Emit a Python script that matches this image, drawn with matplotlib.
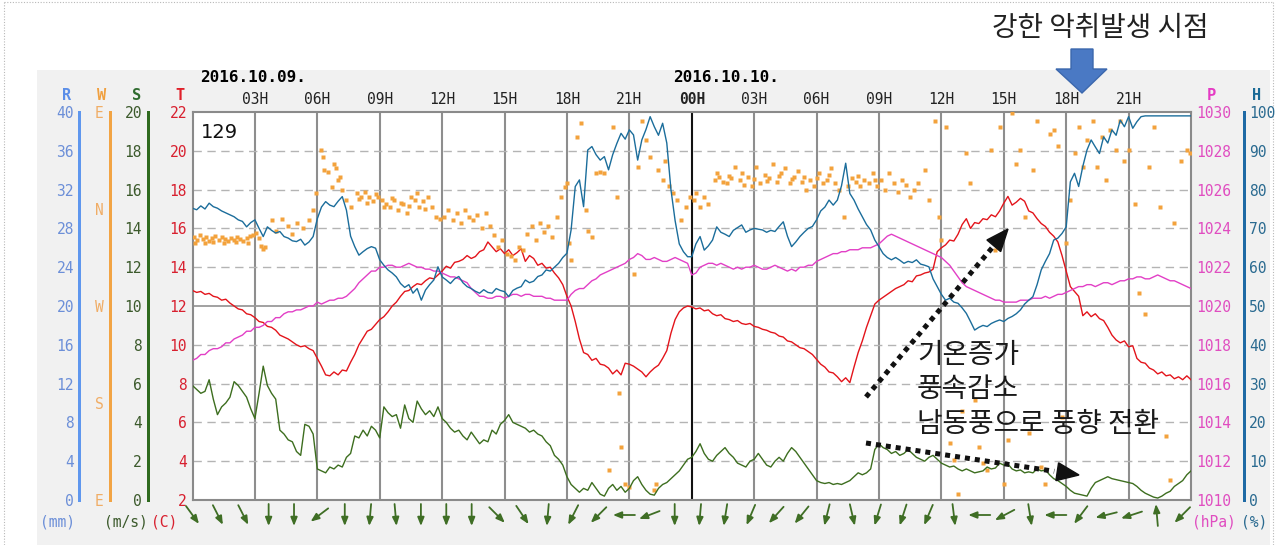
import numpy as np
import matplotlib
matplotlib.use('Agg')
import matplotlib.pyplot as plt
from matplotlib.patches import Rectangle, Polygon

plt.rcParams['font.family'] = ['DejaVu Sans Mono']

# station 129, 2016-10-09 00H .. 2016-10-11 00H, one sample every 12 minutes
# (each row below = 2 hours)
SAMPLE_HR = 0.2

temp_c = [
    12.8, 12.7, 12.75, 12.6, 12.65, 12.5, 12.45, 12.3, 12.35, 12.15,
    12.0, 11.85, 11.8, 11.6, 11.55, 11.4, 11.2, 11.15, 10.95, 10.9,
    10.75, 10.5, 10.4, 10.3, 10.15, 10.0, 9.9, 9.95, 9.8, 9.7,
    9.3, 8.9, 8.45, 8.4, 8.6, 8.45, 8.7, 8.65, 9.1, 9.5,
    10.0, 10.35, 10.7, 10.8, 11.05, 11.3, 11.45, 11.7, 12.0, 12.2,
    12.5, 12.75, 12.8, 13.0, 13.15, 13.1, 13.3, 13.45, 13.4, 13.6,
    13.8, 14.05, 13.95, 14.25, 14.3, 14.4, 14.6, 14.45, 14.55, 14.8,
    14.9, 15.3, 15.05, 14.8, 14.95, 14.7, 14.9, 14.6, 14.75, 14.95,
    14.3, 14.6, 14.45, 14.1, 14.2, 13.95, 14.0, 13.7, 13.45, 13.1,
    12.5, 12.0, 11.2, 10.3, 9.6, 9.5, 9.2, 9.3, 9.0, 8.95,
    8.8, 8.5, 8.7, 8.45, 9.05, 9.0, 8.9, 8.75, 8.6, 8.35,
    8.6, 8.8, 8.95, 9.3, 9.7, 10.6, 11.3, 11.7, 11.9, 12.0,
    11.95, 11.85, 11.9, 11.75, 11.8, 11.6, 11.5, 11.55, 11.35, 11.3,
    11.2, 11.25, 11.1, 11.05, 11.1, 10.95, 10.9, 10.8, 10.75, 10.65,
    10.6, 10.45, 10.4, 10.2, 10.15, 10.0, 9.85, 9.8, 9.65, 9.5,
    9.25, 9.0, 8.85, 8.6, 8.55, 8.35, 8.1, 8.3, 8.05, 8.85,
    9.6, 10.2, 10.9, 11.5, 12.1, 12.3, 12.45, 12.6, 12.75, 12.9,
    13.0, 13.1, 13.3, 13.25, 13.55, 13.6, 13.7, 13.75, 13.9, 14.8,
    15.0, 15.15, 15.4, 15.35, 15.7, 16.2, 16.5, 16.0, 16.3, 16.25,
    16.5, 16.45, 16.7, 16.6, 16.9, 17.3, 17.65, 17.2, 17.35, 17.55,
    17.4, 16.9, 16.8, 16.5, 16.25, 16.1, 15.8, 15.6, 15.3, 14.6,
    13.8, 13.0, 12.75, 12.5, 11.5, 11.7, 11.45, 11.6, 11.35, 11.25,
    10.9, 10.5, 10.25, 10.1, 10.2, 9.9, 9.95, 9.3, 9.1, 9.05,
    8.8, 8.7, 8.5, 8.6, 8.4, 8.45, 8.25, 8.35, 8.2, 8.4,
    8.2]

wspd_ms = [
    5.9, 5.7, 5.5, 5.6, 6.2, 5.2, 4.4, 4.8, 5.0, 5.3,
    6.1, 5.9, 5.6, 5.3, 4.7, 4.2, 5.5, 6.9, 5.9, 5.5,
    5.2, 3.6, 3.4, 3.1, 3.0, 2.5, 2.3, 3.9, 3.8, 3.4,
    1.6, 1.5, 1.4, 1.7, 1.6, 1.8, 1.7, 2.2, 2.4, 3.3,
    3.2, 3.6, 3.3, 3.8, 3.6, 3.2, 4.8, 4.5, 4.3, 4.4,
    3.7, 4.9, 4.2, 4.0, 5.1, 4.7, 4.4, 4.6, 4.3, 4.8,
    4.2, 4.0, 3.7, 3.5, 3.6, 3.3, 3.1, 3.5, 3.2, 2.9,
    3.1, 3.0, 3.6, 3.4, 3.9, 4.1, 4.4, 4.0, 3.9, 3.8,
    3.7, 3.5, 3.6, 3.4, 3.3, 3.0, 2.8, 2.3, 2.1, 1.8,
    1.2, 0.8, 0.6, 0.4, 0.6, 0.5, 0.9, 0.6, 0.3, 0.2,
    0.6, 0.8, 0.5, 0.7, 0.4, 0.6, 1.0, 1.2, 0.8, 0.5,
    0.3, 0.25, 0.6, 0.8, 0.9, 1.1, 1.3, 1.5, 1.8, 2.1,
    2.2, 2.5, 2.9, 2.4, 2.1, 2.0, 2.3, 2.5, 2.7, 2.4,
    2.2, 1.9, 1.8, 1.7, 2.0, 2.1, 2.4, 2.1, 1.8, 1.7,
    2.0, 2.2, 2.0, 2.4, 2.7, 2.5, 2.2, 1.9, 1.6, 1.3,
    1.0, 0.9, 0.85, 0.9, 0.8, 0.85, 0.8, 0.9, 1.0, 1.2,
    1.4, 1.3, 1.4, 1.6, 2.6, 2.9, 2.7, 2.6, 2.4, 2.5,
    2.3, 2.4, 2.6, 2.4, 2.2, 2.1, 2.0, 2.2, 2.3, 2.1,
    1.9, 1.8, 1.7, 1.75, 1.6, 1.5, 1.6, 1.5, 1.4, 1.45,
    1.5, 1.7, 1.6, 1.65, 1.9, 1.8, 1.85, 1.6, 1.5, 1.55,
    1.4, 1.45, 1.4, 1.6, 1.5, 1.55, 1.3, 1.1, 1.0, 0.85,
    0.7, 0.5, 0.35, 0.3, 0.25, 0.2, 0.6, 0.9, 1.0, 1.1,
    1.2, 1.1, 1.05, 1.0, 0.95, 0.9, 0.85, 0.7, 0.5, 0.35,
    0.25, 0.15, 0.1, 0.2, 0.35, 0.45, 0.7, 0.85, 1.0, 1.3,
    1.5]

pres_hpa = [
    1017.2, 1017.3, 1017.5, 1017.5, 1017.7, 1017.8, 1017.8, 1017.9, 1018.1, 1018.1,
    1018.3, 1018.4, 1018.5, 1018.7, 1018.7, 1018.9, 1018.9, 1019.0, 1019.2, 1019.2,
    1019.4, 1019.4, 1019.6, 1019.7, 1019.7, 1019.8, 1019.8, 1019.9, 1020.0, 1020.0,
    1020.2, 1020.1, 1020.2, 1020.3, 1020.3, 1020.4, 1020.4, 1020.5, 1020.7, 1020.9,
    1021.2, 1021.4, 1021.6, 1021.8, 1021.8, 1022.0, 1022.0, 1022.1, 1022.1, 1022.0,
    1022.0, 1022.1, 1022.2, 1022.1, 1022.0, 1022.0, 1021.9, 1021.9, 1021.8, 1021.8,
    1021.7, 1021.6, 1021.5, 1021.5, 1021.4, 1021.3, 1021.2, 1020.9, 1020.7, 1020.5,
    1020.5, 1020.4, 1020.4, 1020.5, 1020.5, 1020.4, 1020.5, 1020.6, 1020.6, 1020.5,
    1020.6, 1020.6, 1020.5, 1020.5, 1020.5, 1020.4, 1020.4, 1020.3, 1020.3, 1020.3,
    1020.3, 1020.6, 1020.8, 1020.9, 1020.9, 1021.1, 1021.3, 1021.4, 1021.6, 1021.7,
    1021.8, 1021.9, 1022.0, 1022.1, 1022.2, 1022.4, 1022.5, 1022.7, 1022.6, 1022.4,
    1022.4, 1022.5, 1022.4, 1022.3, 1022.3, 1022.4, 1022.5, 1022.4, 1022.3, 1022.2,
    1021.6, 1021.7, 1022.0, 1022.1, 1022.2, 1022.2, 1022.1, 1022.2, 1022.1, 1022.0,
    1021.9, 1022.0, 1021.9, 1022.0, 1022.0, 1022.1, 1022.0, 1021.9, 1021.9, 1022.0,
    1022.1, 1022.0, 1021.9, 1021.8, 1021.9, 1021.8, 1022.0, 1022.0, 1022.1, 1022.1,
    1022.3, 1022.4, 1022.5, 1022.6, 1022.7, 1022.7, 1022.8, 1022.8, 1022.9, 1022.9,
    1022.9, 1023.0, 1023.0, 1023.0, 1023.1, 1023.2, 1023.4, 1023.6, 1023.7, 1023.6,
    1023.5, 1023.4, 1023.3, 1023.2, 1023.1, 1023.0, 1022.9, 1022.8, 1022.7, 1022.6,
    1022.5, 1022.3, 1022.1, 1021.8, 1021.5, 1021.2, 1021.0, 1020.9, 1020.8, 1020.7,
    1020.6, 1020.5, 1020.4, 1020.3, 1020.3, 1020.2, 1020.2, 1020.2, 1020.2, 1020.3,
    1020.3, 1020.3, 1020.4, 1020.4, 1020.4, 1020.5, 1020.4, 1020.5, 1020.6, 1020.6,
    1020.7, 1020.8, 1020.9, 1021.0, 1021.0, 1021.1, 1021.1, 1021.0, 1021.1, 1021.2,
    1021.2, 1021.1, 1021.2, 1021.3, 1021.3, 1021.4, 1021.4, 1021.5, 1021.5, 1021.4,
    1021.4, 1021.5, 1021.6, 1021.5, 1021.4, 1021.3, 1021.3, 1021.2, 1021.1, 1021.0,
    1020.9]

humi_pct = [
    75.2, 74.8, 75.8, 75.0, 76.5, 75.6, 75.2, 74.5, 74.0, 73.5,
    73.0, 72.2, 71.8, 70.4, 71.5, 72.2, 70.0, 67.9, 70.4, 69.5,
    68.8, 69.2, 67.9, 67.5, 66.8, 66.6, 67.2, 65.7, 66.5, 67.9,
    72.5, 75.5, 76.9, 76.0, 75.6, 77.0, 78.2, 74.7, 68.0, 65.3,
    63.1, 64.0, 64.8, 65.3, 64.9, 61.9, 60.5, 59.3, 58.5, 57.5,
    55.8, 54.8, 55.5, 53.3, 54.5, 51.5, 54.1, 55.5, 56.7, 60.1,
    57.5, 56.7, 55.8, 57.0, 57.6, 56.0, 55.0, 54.5, 53.8, 53.3,
    54.2, 53.5, 53.3, 54.5, 54.0, 53.7, 52.4, 54.0, 54.6, 55.0,
    56.7, 56.0, 56.4, 57.6, 58.0, 59.3, 59.0, 60.0, 61.0, 62.5,
    63.6, 69.6, 80.8, 82.5, 75.6, 90.2, 91.1, 89.0, 87.6, 88.5,
    85.1, 89.0, 91.9, 94.5, 93.0, 95.4, 94.1, 87.6, 92.8, 95.5,
    98.8, 96.2, 94.0, 97.1, 92.0, 80.0, 72.0, 66.0, 64.0, 62.7,
    62.7, 66.0, 67.9, 64.4, 65.5, 67.0, 70.4, 69.0, 68.5, 67.9,
    69.5, 70.2, 70.9, 69.0, 69.6, 70.0, 69.8, 69.6, 69.0, 69.5,
    69.2, 70.5, 71.7, 68.0, 65.3, 66.5, 67.9, 69.0, 70.0, 70.5,
    72.2, 74.5, 75.5, 77.3, 76.0, 77.3, 81.0, 86.8, 79.0, 77.3,
    75.0, 73.0, 71.0, 69.6, 67.0, 65.3, 63.5, 62.5, 61.9, 62.5,
    61.8, 61.0, 61.5, 61.2, 61.9, 60.8, 60.5, 60.1, 57.0, 55.0,
    53.0, 51.5, 52.0, 51.0, 50.7, 49.5, 48.1, 46.0, 43.8, 44.5,
    45.0, 44.7, 45.5, 46.0, 46.4, 46.0, 46.8, 47.3, 48.0, 49.0,
    50.5, 51.5, 52.4, 55.5, 59.3, 61.5, 63.5, 67.0, 67.5, 68.7,
    70.4, 82.0, 84.2, 80.8, 86.0, 90.2, 92.8, 91.0, 89.3, 93.6,
    92.0, 95.4, 94.0, 97.9, 96.2, 98.8, 95.8, 97.5, 98.8, 99.0,
    99.0, 99.0, 99.0, 99.0, 99.0, 99.0, 99.0, 99.0, 99.0, 99.0,
    99.0]

# wind direction samples: (hour, compass degrees the wind blows from)
wdir = [(0.05, 334), (0.1, 328), (0.2, 331), (0.35, 336), (0.5, 332), (0.6, 328), (0.65, 334),
        (0.8, 330), (0.95, 333), (1.0, 329), (1.1, 335), (1.25, 331), (1.4, 334), (1.5, 328),
        (1.55, 332), (1.7, 330), (1.85, 333), (2.0, 331), (2.1, 329), (2.15, 334), (2.3, 332),
        (2.45, 330), (2.6, 333), (2.65, 328), (2.75, 335), (2.9, 336), (3.05, 338), (3.2, 333),
        (3.3, 326), (3.4, 323), (3.5, 325),
        (3.8, 350), (4.0, 340), (4.3, 351), (4.6, 344), (4.8, 337), (5.0, 347), (5.3, 342), (5.6, 350),
        (5.8, 359), (5.95, 15), (6.2, 55), (6.25, 48), (6.3, 36), (6.5, 34), (6.7, 20), (6.8, 42),
        (6.9, 38), (7.0, 27), (7.1, 30), (7.2, 18), (7.4, 8), (7.6, 2),
        (7.9, 15), (8.0, 9), (8.1, 11), (8.3, 16), (8.4, 6), (8.5, 11), (8.7, 7), (8.8, 14), (8.9, 11),
        (9.1, 8), (9.2, 2), (9.3, 5), (9.5, 2), (9.6, 10), (9.7, 8), (9.9, 359), (10.0, 6), (10.1, 5),
        (10.3, 356), (10.4, 3), (10.5, 11), (10.7, 8), (10.8, 15), (10.9, 2), (11.1, 7), (11.2, 0),
        (11.3, 11), (11.5, 2), (11.7, 353), (11.9, 351),
        (12.1, 353), (12.3, 359), (12.5, 350), (12.7, 356), (12.9, 347), (13.1, 359), (13.3, 353),
        (13.5, 350), (13.7, 354), (13.9, 342), (14.1, 356), (14.3, 344), (14.5, 336),
        (14.7, 325), (14.9, 331), (15.1, 318), (15.3, 316), (15.5, 313), (15.7, 325), (15.9, 322),
        (16.1, 337), (16.3, 344), (16.5, 331), (16.7, 347), (16.9, 339), (17.1, 344), (17.3, 334),
        (17.5, 353), (17.7, 11), (17.9, 20),
        (18.0, 24), (18.1, 328), (18.2, 313), (18.5, 67), (18.7, 80), (18.9, 359), (19.0, 340),
        (19.2, 334), (19.4, 33), (19.6, 34), (19.8, 33), (20.0, 118), (20.2, 76), (20.4, 11),
        (20.5, 189), (20.6, 139), (20.8, 105), (21.0, 102), (21.2, 300), (21.4, 39), (21.6, 82),
        (21.8, 64), (22.0, 48), (22.2, 99), (22.3, 105), (22.4, 36), (22.6, 27), (22.7, 45),
        (22.9, 21), (23.1, 15), (23.3, 8), (23.5, 350), (23.7, 2), (23.9, 11),
        (24.1, 8), (24.2, 15), (24.4, 2), (24.6, 11), (24.8, 5),
        (25.1, 27), (25.2, 33), (25.3, 30), (25.5, 25), (25.7, 24), (25.8, 31), (25.9, 29), (26.1, 39),
        (26.3, 27), (26.4, 33), (26.5, 22), (26.7, 30), (26.9, 21), (27.0, 28), (27.1, 39), (27.3, 24),
        (27.5, 32), (27.6, 26), (27.7, 29), (27.9, 42), (28.1, 25), (28.2, 31), (28.3, 33), (28.5, 38),
        (28.7, 24), (28.8, 28), (28.9, 30), (29.1, 35), (29.3, 25), (29.4, 30), (29.5, 18), (29.7, 27),
        (29.9, 21), (30.0, 29), (30.1, 33), (30.3, 24), (30.5, 27), (30.6, 32), (30.7, 38), (30.9, 24),
        (31.1, 18), (31.3, 353), (31.5, 21), (31.7, 29), (31.9, 25), (32.0, 31), (32.1, 21), (32.3, 27),
        (32.5, 24), (32.7, 33), (32.8, 27), (32.9, 21), (33.1, 27), (33.3, 18), (33.5, 33), (33.7, 24),
        (33.9, 16), (34.1, 27), (34.3, 22), (34.5, 11), (34.7, 18), (34.9, 24),
        (35.2, 36), (35.4, 8), (35.7, 82), (35.9, 353), (36.0, 331), (36.2, 76), (36.4, 143),
        (36.6, 127), (36.8, 96), (37.0, 173), (37.2, 52), (37.4, 24), (37.6, 183), (37.8, 139),
        (38.0, 124), (38.2, 118), (38.4, 55), (38.6, 322), (38.8, 76), (39.0, 105), (39.2, 146),
        (39.4, 89), (39.6, 42), (39.8, 55), (40.0, 353), (40.2, 152), (40.4, 36), (40.6, 82),
        (40.8, 121), (41.0, 105), (41.2, 70), (41.4, 73), (41.6, 58), (41.8, 167), (42.0, 328),
        (42.2, 8), (42.4, 52), (42.6, 76), (42.8, 39), (43.0, 64), (43.3, 82), (43.5, 39), (43.7, 67),
        (43.9, 27), (44.1, 73), (44.4, 55), (44.6, 82), (44.8, 45), (45.0, 55), (45.3, 5), (45.5, 282),
        (45.8, 263), (46.0, 39), (46.2, 76), (46.5, 2), (46.8, 149), (47.0, 109), (47.2, 347),
        (47.5, 45), (47.8, 55), (47.95, 52)]

# wind arrows along the bottom (direction wind blows from)
arrow_from = [324, 333, 333, 0, 0, 53, 0, 5, 355, 0,
              0, 0, 315, 326, 5, 27, 45, 90, 69, 0,
              5, 9, 23, 42, 39, 14, 347, 17, 18, 23,
              353, 90, 62, 351, 90, 37, 76, 72, 175, 45]

obs_hr = np.arange(len(temp_c)) * SAMPLE_HR
wdir_hr, wdir_deg = np.array(wdir).T
# the W scale runs E(bottom) - S - W - N - E(top)
wdir_axis = np.where(wdir_deg < 90, wdir_deg + 360, wdir_deg)

W_PX, H_PX = 1277, 545
PT = 0.72  # points per pixel at 100 dpi
FS = 10.5

fig = plt.figure(figsize=(W_PX / 100, H_PX / 100), dpi=100)

# pixel-space background: grey panel + dotted frame
bg = fig.add_axes([0, 0, 1, 1], zorder=-1)
bg.set_xlim(0, W_PX)
bg.set_ylim(H_PX, 0)
bg.axis('off')
bg.add_patch(Rectangle((37, 70), 1233, 475, facecolor='#f1f1f1', edgecolor='none'))
for xs, ys in [([4, 4], [2, H_PX]), ([4, 1273], [2, 2]), ([1273, 1273], [2, H_PX])]:
    bg.plot(xs, ys, color='#b8b8b8', lw=0.8, ls=(0, (1, 1.5)))

left, right, top, bottom = 192.5, 1191, 112, 500
ax = fig.add_axes([left / W_PX, 1 - bottom / H_PX, (right - left) / W_PX, (bottom - top) / H_PX])
ax.set_facecolor('white')
ax.set_xlim(0, 48)
ax.set_ylim(2, 22)

hours = np.arange(3, 48, 3)
ax.xaxis.tick_top()
ax.set_xticks(hours)
ax.set_xticklabels(['%02dH' % (h % 24) for h in hours])
ax.tick_params(axis='x', length=0, pad=3.5, labelsize=FS, labelcolor='#222222')
ax.get_xticklabels()[7].set_fontweight('bold')
ax.set_yticks(np.arange(2, 23, 2))
ax.tick_params(axis='y', length=0, pad=4, labelsize=FS, labelcolor='#d8202f')
for sp in ax.spines.values():
    sp.set_color('#8a8a8a')
    sp.set_linewidth(1.5)

for h in hours:
    ax.axvline(h, color='#111111' if h == 24 else '#8e8e8e', lw=1.5, zorder=1)
for t in range(4, 22, 2):
    if t == 12:
        ax.axhline(t, color='#9a9a9a', lw=1.3, zorder=1)
    else:
        ax.axhline(t, color='#b4b4b4', lw=1, dashes=(6, 4), zorder=1)


def side_axis(side, lim, ticks, labels, color, pad_px, spine_color=None, offset_px=0):
    a = ax.twinx()
    a.set_ylim(*lim)
    for sp in a.spines.values():
        sp.set_visible(False)
    if side == 'left':
        a.yaxis.tick_left()
    else:
        a.yaxis.tick_right()
    if spine_color:
        sp = a.spines[side]
        sp.set_visible(True)
        sp.set_position(('outward', offset_px * PT))
        sp.set_color(spine_color)
        sp.set_linewidth(3 * PT)
    a.set_yticks(ticks)
    a.set_yticklabels(labels)
    a.tick_params(axis='y', length=0, pad=pad_px * PT, labelsize=FS, labelcolor=color)
    return a


ax_r = side_axis('left', (0, 40), np.arange(0, 41, 4), [str(v) for v in range(0, 41, 4)],
                 '#6c8fd8', 5, '#5f97ee', 113.5)
ax_w = side_axis('left', (90, 450), [90, 180, 270, 360, 450], ['E', 'S', 'W', 'N', 'E'],
                 '#f0ad66', 6.5, '#f2a444', 82.5)
ax_s = side_axis('left', (0, 20), np.arange(0, 21, 2), [str(v) for v in range(0, 21, 2)],
                 '#3c5a2c', 6, '#2f6a1f', 44.5)
ax_p = side_axis('right', (1010, 1030), np.arange(1010, 1031, 2),
                 [str(v) for v in range(1010, 1031, 2)], '#e04dc0', 5)
ax_h = side_axis('right', (0, 100), np.arange(0, 101, 10), [str(v) for v in range(0, 101, 10)],
                 '#2a6a90', 5, '#1f6aa5', 53)

ax_w.plot(wdir_hr, wdir_axis, 's', ms=3.2, color='#f3a23c', mec='none')
ax.plot(obs_hr, temp_c, color='#e3141b', lw=1.0, zorder=3)
ax_p.plot(obs_hr, pres_hpa, color='#e23fc6', lw=1.0)
ax_h.plot(obs_hr, humi_pct, color='#1b6d9b', lw=1.0)
ax_s.plot(obs_hr, wspd_ms, color='#3d6e1f', lw=1.0)

# foreground overlay in pixel coordinates (y down)
fg = fig.add_axes([0, 0, 1, 1], zorder=10)
fg.set_xlim(0, W_PX)
fg.set_ylim(H_PX, 0)
fg.axis('off')

# axis headers and units
for x, s, c in [(67, 'R', '#5b8ee8'), (102, 'W', '#f0a040'), (137, 'S', '#2e6b2e'),
                (180, 'T', '#e0202a'), (1211, 'P', '#e53bc4'), (1257, 'H', '#1a6a96')]:
    fg.text(x, 95, s, color=c, fontsize=11, fontweight='bold', ha='center', va='center')
for x, s, c in [(40, '(mm)', '#6c8fd8'), (104, '(m/s)', '#3c5a2c'), (151, '(C)', '#d8202f'),
                (1192, '(hPa)', '#e04dc0'), (1241, '(%)', '#2a6a90')]:
    fg.text(x, 522, s, color=c, fontsize=FS, ha='left', va='center')

fg.text(200, 77, '2016.10.09.', fontsize=11.5, fontweight='bold', ha='left', va='center')
fg.text(673, 77, '2016.10.10.', fontsize=11.5, fontweight='bold', ha='left', va='center')
fg.text(201, 132, '129', family='DejaVu Sans', fontsize=14, ha='left', va='center', color='#111')

# wind arrows under the time axis
arrow_hr = np.arange(len(arrow_from)) * 1.22
for h, d in zip(arrow_hr, arrow_from):
    cx = ax.transData.transform((h, 2))[0]
    to = np.radians(d + 180)
    ux, uy = np.sin(to), np.cos(to)
    half = 11
    fg.annotate('', xy=(cx + half * ux, 515 - half * uy), xytext=(cx - half * ux, 515 + half * uy),
                arrowprops=dict(arrowstyle='-|>,head_length=0.5,head_width=0.2', color='#3f6e25',
                                lw=1.3, shrinkA=0, shrinkB=0))


def dotted_arrow(x0, y0, x1, y1, head_len=22, head_w=9):
    u = np.array([x1 - x0, y1 - y0], dtype=float)
    u /= np.hypot(*u)
    perp = np.array([-u[1], u[0]])
    base = np.array([x1, y1]) - head_len * u
    end = base - 3 * u
    fg.plot([x0, end[0]], [y0, end[1]], color='#111111', lw=5 * PT, ls=(0, (1, 1)),
            dash_capstyle='butt', solid_capstyle='butt')
    fg.add_patch(Polygon([[x1, y1], base + head_w * perp, base - head_w * perp],
                         closed=True, color='#111111'))


dotted_arrow(866, 397, 1008, 229)
dotted_arrow(866, 443, 1079, 475)

ko = 'Noto Sans CJK KR'
for y, s in [(355, '기온증가'), (389, '풍속감소'), (424, '남동풍으로 풍향 전환')]:
    fg.text(917, y, s, family=ko, fontsize=20, ha='left', va='center', color='#1a1a1a')

fg.text(1100, 28, '강한 악취발생 시점', family=ko, fontsize=20, ha='center', va='center',
        color='#222222')
fg.add_patch(Polygon([[1071, 49], [1093, 49], [1093, 69], [1107, 69], [1082, 93],
                      [1056, 69], [1071, 69]], closed=True, facecolor='#4a79c4',
                     edgecolor='#3b67ad', lw=1))

fig.savefig('out.png', dpi=100)
